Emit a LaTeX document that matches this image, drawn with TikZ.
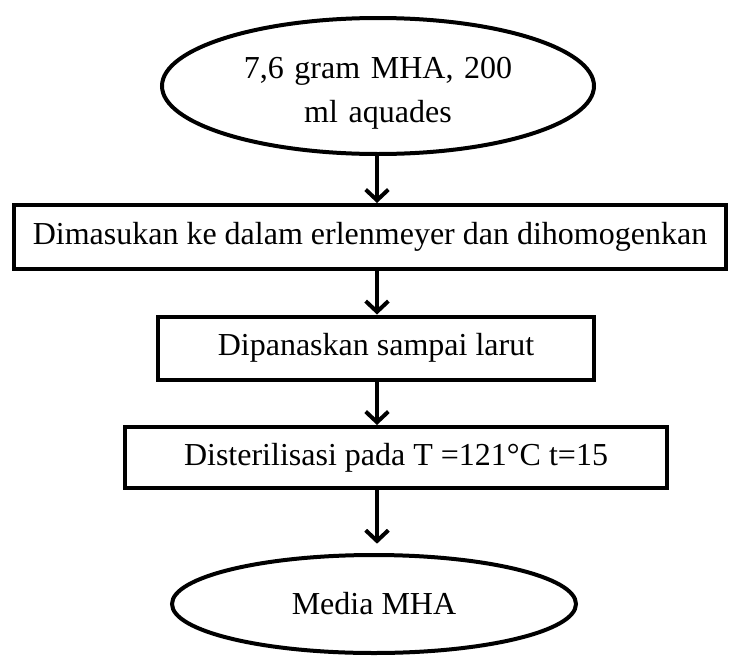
\documentclass[tikz,border=0pt]{standalone}
\usepackage{fontspec}
\setmainfont{Liberation Serif}
\usetikzlibrary{shapes.geometric,arrows.meta}
\begin{document}
\begin{tikzpicture}[x=0.75pt,y=-0.75pt,
  every node/.style={font=\fontsize{24}{33}\selectfont, inner sep=0pt},
  proc/.style={draw, rectangle, line width=3pt},
  term/.style={draw, ellipse, line width=3pt},
  flow/.style={line width=3pt, -{Straight Barb[length=8pt,width=17pt]}}]
\useasboundingbox (0,0) rectangle (732,657);
\coordinate (col) at (377,0);
\node[term, minimum width=324pt, minimum height=102pt, text width=210pt, align=center, text height=17pt, text depth=29pt] (start) at (378,86) {7,6 gram MHA, 200\\ ml aquades};
\node[proc, minimum width=534pt, minimum height=48pt] (b1) at (370,237) {Dimasukan ke dalam erlenmeyer dan dihomogenkan};
\node[proc, minimum width=327pt, minimum height=47.6pt] (b2) at (376,348.25) {Dipanaskan sampai larut};
\node[proc, minimum width=406.5pt, minimum height=45.75pt] (b3) at (396,457.5) {Disterilisasi pada T =121°C t=15};
\node[term, minimum width=303pt, minimum height=73.5pt] (end) at (374,604) {Media MHA};
\draw[flow] (start.south -| col) -- (b1.north -| col);
\draw[flow] (b1.south -| col) -- (b2.north -| col);
\draw[flow] (b2.south -| col) -- (b3.north -| col);
\draw[flow, shorten >=7pt] (b3.south -| col) -- (end.north -| col);
\end{tikzpicture}
\end{document}
